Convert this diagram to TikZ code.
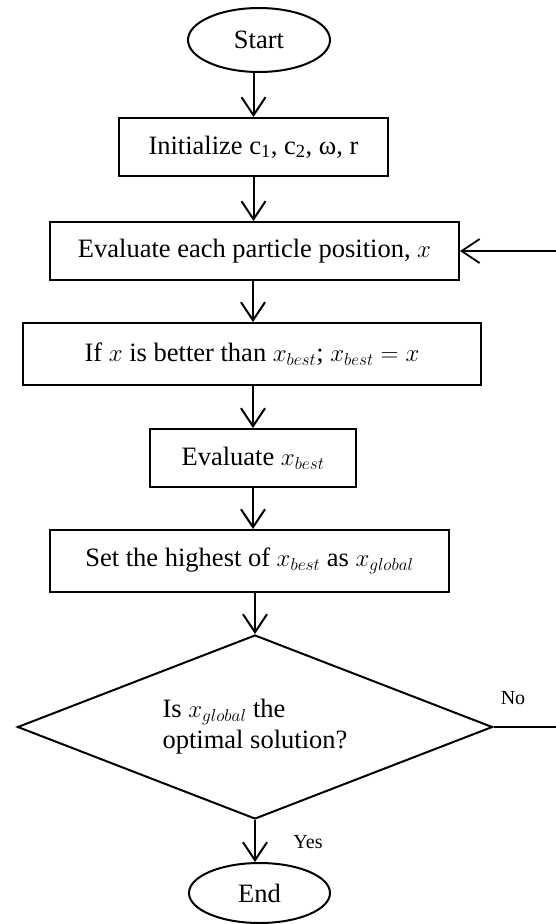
\documentclass[tikz,border=0pt]{standalone}
\usepackage{fontspec}
\setmainfont{Liberation Serif}
\usetikzlibrary{shapes.geometric,arrows.meta}

\begin{document}
\begin{tikzpicture}[x=1pt,y=-1pt,
  font=\fontsize{26.5}{31}\selectfont,
  box/.style={draw,line width=2pt,inner sep=0pt,minimum height=58pt},
  term/.style={draw,ellipse,line width=2pt,inner sep=0pt},
  decision/.style={draw,diamond,aspect=2.58,line width=2pt,inner sep=0pt,align=left},
  flow/.style={line width=2pt,-{Straight Barb[length=18pt,width=24pt,line width=2pt]}},
  back/.style={line width=1.4pt,-{Straight Barb[length=18pt,width=24pt,line width=1.8pt]}},
  lbl/.style={font=\fontsize{20}{24}\selectfont}]

  \useasboundingbox (0,0) rectangle (555,924);

  % Terminals
  \node[term,minimum width=142pt,minimum height=64pt] (start) at (259,40) {Start};
  \node[term,minimum width=141pt,minimum height=60pt] (stop) at (259.5,893) {End};

  % Steps
  \node[box,minimum width=269pt] (init) at (253.5,147)
    {Initialize c\textsubscript{1}, c\textsubscript{2}, ω, r};
  \node[box,minimum width=409pt] (eval) at (254.5,251)
    {Evaluate each particle position, $x$};
  \node[box,minimum width=458pt,minimum height=62pt] (better) at (252,354)
    {If $x$ is better than $x_{best}$; $x_{best} = x$};
  \node[box,minimum width=206pt] (evalbest) at (253,458)
    {Evaluate $x_{best}$};
  \node[box,minimum width=399pt,minimum height=62pt] (global) at (249.5,561)
    {Set the highest of $x_{best}$ as $x_{global}$};

  % Decision
  \node[decision,minimum width=475pt,minimum height=184pt] (check) at (255,727)
    {Is $x_{global}$ the\\optimal solution?};

  % Arrows
  \draw[flow] (start.south -| init) -- (init.north);
  \draw[flow] (init.south) -- (init.south |- eval.north);
  \draw[flow] (eval.south -| evalbest) -- (evalbest |- better.north);
  \draw[flow] (better.south -| evalbest) -- (evalbest.north);
  \draw[flow] (evalbest.south) -- (evalbest.south |- global.north);
  \draw[flow] (global.south -| check) -- (check.north);
  \draw[flow] (check.south) -- (check.south |- stop.north);

  % Loop back
  \coordinate (loop) at (566,727);
  \draw[back] (check.east) -- (loop) |- (eval.east);

  % Branch labels
  \node[lbl] (no) at (513,698) {No};
  \node[lbl] (yes) at (308,842) {Yes};

\end{tikzpicture}
\end{document}
